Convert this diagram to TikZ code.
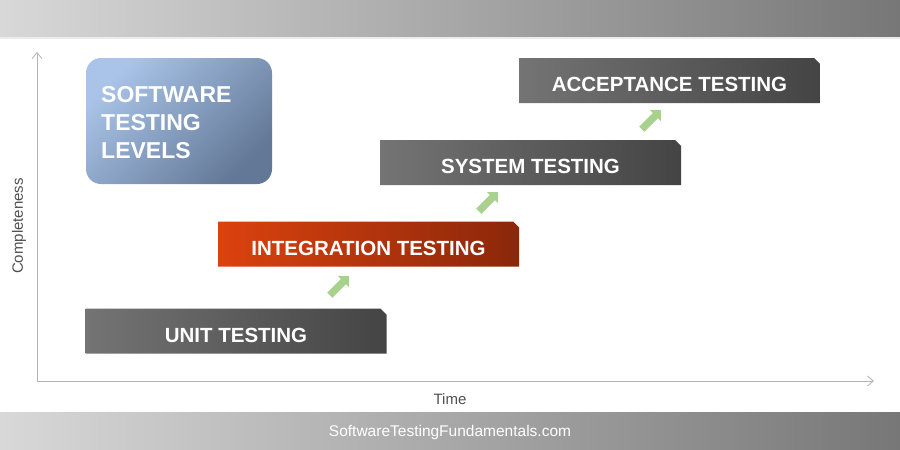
\documentclass[tikz,border=0pt]{standalone}
\usepackage{fontspec}
\setmainfont{Liberation Sans}
\usetikzlibrary{shapes.misc,shapes.arrows,arrows.meta}
\definecolor{bandL}{HTML}{D8D8D8}
\definecolor{bandR}{HTML}{777777}
\definecolor{grayL}{HTML}{747474}
\definecolor{grayR}{HTML}{444444}
\definecolor{orL}{HTML}{DC420E}
\definecolor{orR}{HTML}{8A270A}
\definecolor{blueL}{HTML}{A9C4E8}
\definecolor{blueR}{HTML}{637896}
\definecolor{arrowgreen}{HTML}{A9D18E}
\definecolor{axisgray}{HTML}{B4B4B4}
\definecolor{labelgray}{HTML}{505050}
\tikzset{
  band/.style={left color=bandL, right color=bandR, draw=none},
  levelbox/.style={chamfered rectangle, chamfered rectangle corners=north east,
    chamfered rectangle xsep=3pt, chamfered rectangle ysep=3pt,
    minimum width=301pt, minimum height=45pt, inner sep=0pt,
    text height=22pt, text depth=0pt,
    text=white, font=\fontsize{20.5}{24}\selectfont\bfseries},
  graybox/.style={levelbox, left color=grayL, right color=grayR},
  redbox/.style={levelbox, left color=orL, right color=orR},
  greenarrow/.style={single arrow, fill=arrowgreen, draw=none, rotate=45,
    minimum height=27pt, inner sep=3.5pt, single arrow head extend=4pt,
    single arrow head indent=0pt},
  axis/.style={draw=axisgray, line width=1pt, -{Straight Barb[length=6pt,width=10pt,line width=0.8pt]}},
  axislabel/.style={text=labelgray, font=\fontsize{15}{18}\selectfont}
}
\begin{document}
\begin{tikzpicture}[x=1pt,y=-1pt]
\useasboundingbox (0,0) rectangle (900,450);
\fill[white] (0,0) rectangle (900,450);
% header and footer bands
\shade[band] (0,0) rectangle (900,37);
\fill[white!92!black] (0,37) rectangle (900,38.5);
\shade[band] (0,412) rectangle (900,450);
\node[text=white, font=\fontsize{15.5}{18}\selectfont] (site) at (450,432) {SoftwareTestingFundamentals.com};
% axes
\coordinate (origin) at (37,381);
\coordinate (ytop) at (37,52);
\coordinate (xend) at (874,381);
\draw[axis] (origin) -- (ytop);
\draw[axis] (origin) -- (xend);
\node[axislabel] (time) at (450,399) {Time};
\node[axislabel, rotate=90] (compl) at (19,226) {Completeness};
% title box
\node[rounded corners=15pt, top color=blueL, bottom color=blueR, shading angle=45,
  minimum width=186pt, minimum height=126pt, inner sep=0pt] (title) at (179,121) {};
\node[anchor=north west, align=left, inner sep=0pt, text=white,
  font=\fontsize{23}{28}\selectfont\bfseries] (titletext) at (101,86)
  {SOFTWARE\\TESTING\\LEVELS};
% level boxes
\node[graybox] (unit) at (236,331) {UNIT TESTING};
\node[redbox] (integ) at (368.5,244) {INTEGRATION TESTING};
\node[graybox] (sys) at (530.5,162.5) {SYSTEM TESTING};
\node[graybox] (acc) at (669.5,80.5) {ACCEPTANCE TESTING};
% green arrows
\node[greenarrow] (a1) at (338,287) {};
\node[greenarrow] (a2) at (487,203) {};
\node[greenarrow] (a3) at (650,121) {};
\end{tikzpicture}
\end{document}
